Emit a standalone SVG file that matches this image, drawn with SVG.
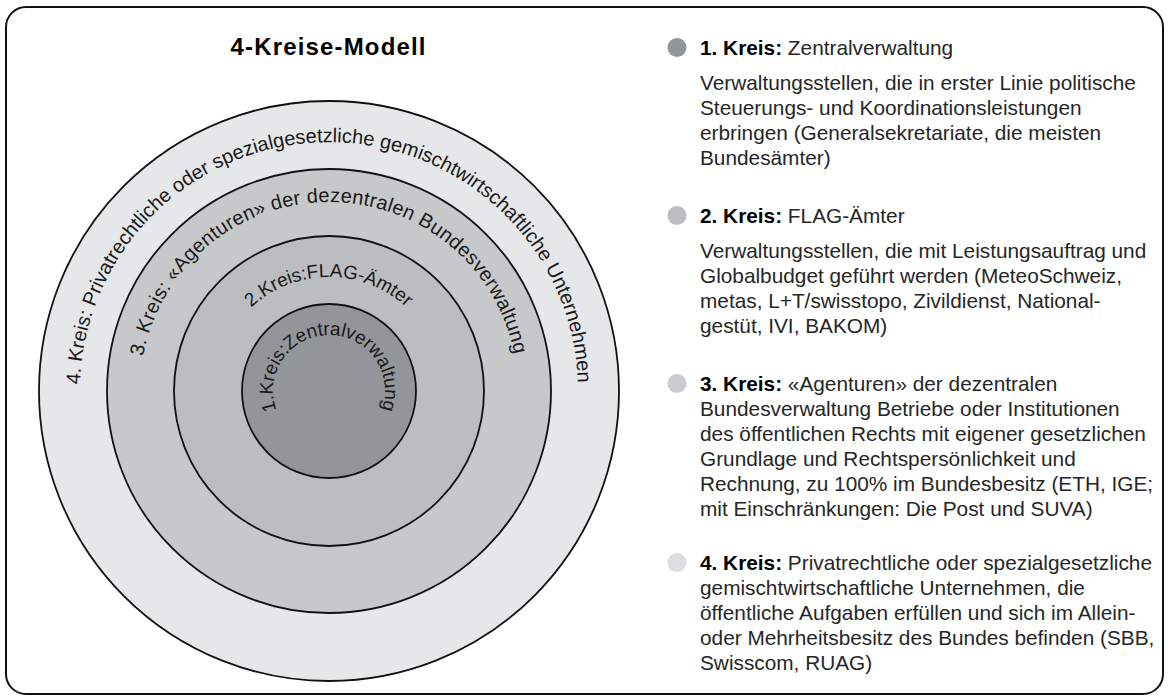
<svg xmlns="http://www.w3.org/2000/svg" width="1168" height="700" viewBox="0 0 1168 700">
<defs>
<style>
.ring{stroke:#111;stroke-width:1.8}
.rt{font-family:"Liberation Sans",Arial,sans-serif;font-size:20px;fill:#1a1a1a}
.lg{font-family:"Liberation Sans",Arial,sans-serif;font-size:20.8px;fill:#262626}
.b{font-weight:bold;fill:#000}
.title{font-family:"Liberation Sans",Arial,sans-serif;font-size:24px;font-weight:bold;fill:#000}
</style>
<path id="p4" d="M80.09,384.48 A249,249 0 0 1 577.91,384.48"/>
<path id="p3" d="M143.17,356.56 A189,189 0 0 1 514.83,356.56"/>
<path id="p2" d="M251.25,307.63 A114,114 0 0 1 406.75,307.63"/>
<path id="p1" d="M276.38,410.15 A56,56 0 1 1 381.62,410.15"/>
</defs>
<rect x="0" y="0" width="1168" height="700" fill="#fff"/>
<rect id="frame" x="6" y="7" width="1157" height="687" rx="20" fill="#fff" stroke="#111" stroke-width="2"/>
<text class="title" x="328" y="55" text-anchor="middle" textLength="195" lengthAdjust="spacing">4-Kreise-Modell</text>

<g id="kreis4">
<circle class="ring" cx="329" cy="391" r="290" fill="#e6e7e8"/>
</g>
<g id="kreis3">
<circle class="ring" cx="329" cy="391" r="222" fill="#c7c8ca"/>
</g>
<g id="kreis2">
<circle class="ring" cx="329" cy="391" r="155" fill="#bcbdc0"/>
</g>
<g id="kreis1">
<circle class="ring" cx="329" cy="391" r="87" fill="#939699"/>
</g>
<g id="ring-labels">
<text class="rt"><textPath href="#p4" textLength="767" lengthAdjust="spacing">4. Kreis: Privatrechtliche oder spezialgesetzliche gemischtwirtschaftliche Unternehmen</textPath></text>
<text class="rt"><textPath href="#p3" textLength="522" lengthAdjust="spacing">3. Kreis: «Agenturen» der dezentralen Bundesverwaltung</textPath></text>
<text class="rt" style="font-size:19px"><textPath href="#p2" textLength="170" lengthAdjust="spacing">2.Kreis:FLAG-Ämter</textPath></text>
<text class="rt" style="font-size:19px"><textPath href="#p1" textLength="214" lengthAdjust="spacing">1.Kreis:Zentralverwaltung</textPath></text>
</g>
<g id="connectors"/>

<g id="legend1">
<circle cx="677" cy="47.5" r="9.5" fill="#939699"/>
<text class="lg" x="700" y="55"><tspan class="b">1. Kreis:</tspan> Zentralverwaltung</text>
<text class="lg"><tspan x="700" y="90">Verwaltungsstellen, die in erster Linie politische</tspan><tspan x="700" y="115">Steuerungs- und Koordinationsleistungen</tspan><tspan x="700" y="140">erbringen (Generalsekretariate, die meisten</tspan><tspan x="700" y="165">Bundesämter)</tspan></text>
</g>
<g id="legend2">
<circle cx="677" cy="215.5" r="9.5" fill="#bcbdc0"/>
<text class="lg" x="700" y="223"><tspan class="b">2. Kreis:</tspan> FLAG-Ämter</text>
<text class="lg"><tspan x="700" y="258">Verwaltungsstellen, die mit Leistungsauftrag und</tspan><tspan x="700" y="283">Globalbudget geführt werden (MeteoSchweiz,</tspan><tspan x="700" y="308">metas, L+T/swisstopo, Zivildienst, National-</tspan><tspan x="700" y="333">gestüt, IVI, BAKOM)</tspan></text>
</g>
<g id="legend3">
<circle cx="677" cy="383.5" r="9.5" fill="#cbcccf"/>
<text class="lg" x="700" y="391"><tspan class="b">3. Kreis:</tspan> «Agenturen» der dezentralen</text>
<text class="lg"><tspan x="700" y="416">Bundesverwaltung Betriebe oder Institutionen</tspan><tspan x="700" y="441">des öffentlichen Rechts mit eigener gesetzlichen</tspan><tspan x="700" y="466">Grundlage und Rechtspersönlichkeit und</tspan><tspan x="700" y="491">Rechnung, zu 100% im Bundesbesitz (ETH, IGE;</tspan><tspan x="700" y="516">mit Einschränkungen: Die Post und SUVA)</tspan></text>
</g>
<g id="legend4">
<circle cx="677" cy="562.5" r="9.5" fill="#dcdde0"/>
<text class="lg" x="700" y="570"><tspan class="b">4. Kreis:</tspan> Privatrechtliche oder spezialgesetzliche</text>
<text class="lg"><tspan x="700" y="595">gemischtwirtschaftliche Unternehmen, die</tspan><tspan x="700" y="620">öffentliche Aufgaben erfüllen und sich im Allein-</tspan><tspan x="700" y="645">oder Mehrheitsbesitz des Bundes befinden (SBB,</tspan><tspan x="700" y="670">Swisscom, RUAG)</tspan></text>
</g>
</svg>
